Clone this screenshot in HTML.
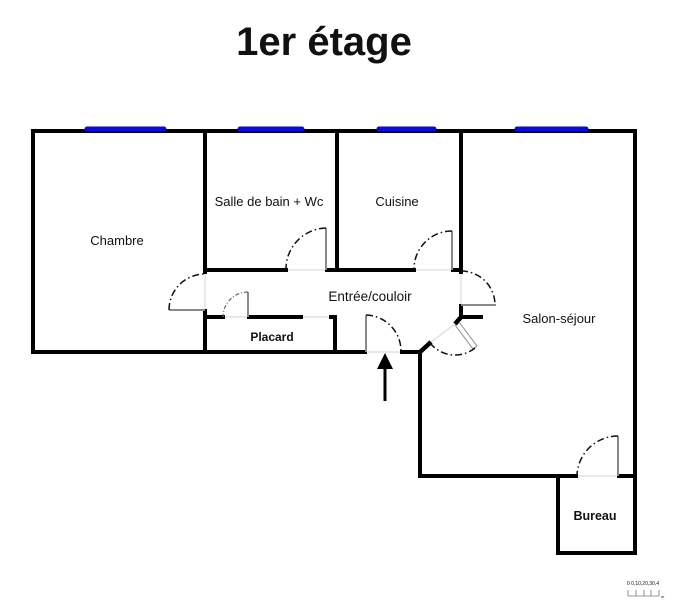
<!DOCTYPE html>
<html><head><meta charset="utf-8"><style>
html,body{margin:0;padding:0;background:#fff;}
svg{display:block;}
text{font-family:"Liberation Sans",sans-serif;fill:#111;}
</style></head><body>
<svg width="678" height="600" viewBox="0 0 678 600" xmlns="http://www.w3.org/2000/svg">
<rect width="678" height="600" fill="#fff"/>
<text x="324" y="55" text-anchor="middle" font-size="40" font-weight="bold">1er étage</text>

<!-- threshold light lines -->
<g stroke="#dcdcdc" stroke-width="1.2" fill="none">
<line x1="205" y1="273" x2="205" y2="310"/>
<line x1="287" y1="270" x2="326" y2="270"/>
<line x1="224" y1="317" x2="248" y2="317"/>
<line x1="301" y1="317" x2="330" y2="317"/>
<line x1="415" y1="270" x2="452" y2="270"/>
<line x1="461" y1="273" x2="461" y2="305"/>
<line x1="365" y1="352" x2="401" y2="352"/>
<line x1="430" y1="343" x2="456" y2="323"/>
<line x1="577" y1="476" x2="618" y2="476"/>
</g>

<!-- walls -->
<g stroke="#000" stroke-width="4" stroke-linecap="square" fill="none">
<line x1="33" y1="131" x2="635" y2="131"/>
<line x1="33" y1="131" x2="33" y2="352"/>
<line x1="33" y1="352" x2="365" y2="352"/>
<line x1="205" y1="131" x2="205" y2="272"/>
<line x1="205" y1="311" x2="205" y2="352"/>
<line x1="205" y1="270" x2="286" y2="270"/>
<line x1="327" y1="270" x2="337" y2="270"/>
<line x1="337" y1="131" x2="337" y2="270"/>
<line x1="337" y1="270" x2="414" y2="270"/>
<line x1="453" y1="270" x2="461" y2="270"/>
<line x1="461" y1="131" x2="461" y2="272"/>
<line x1="205" y1="317" x2="223" y2="317"/>
<line x1="249" y1="317" x2="301" y2="317"/>
<line x1="331" y1="317" x2="335" y2="317"/>
<line x1="335" y1="317" x2="335" y2="352"/>
<line x1="402" y1="352" x2="420" y2="352"/>
<line x1="420" y1="352" x2="420" y2="476"/>
<line x1="420" y1="476" x2="576" y2="476"/>
<line x1="619" y1="476" x2="635" y2="476"/>
<line x1="635" y1="131" x2="635" y2="553"/>
<line x1="558" y1="476" x2="558" y2="553"/>
<line x1="558" y1="553" x2="635" y2="553"/>
<line x1="461" y1="306" x2="461" y2="317"/>
<line x1="461" y1="317" x2="481" y2="317"/>
</g>
<g stroke="#000" stroke-width="4.5" fill="none" stroke-linecap="butt">
<line x1="419" y1="353" x2="431" y2="342"/>
<line x1="462" y1="316" x2="455" y2="324"/>
</g>

<!-- windows -->
<g stroke="#0a0adc" stroke-width="5" stroke-linecap="round">
<line x1="87" y1="129" x2="164" y2="129"/>
<line x1="240" y1="129" x2="302" y2="129"/>
<line x1="379" y1="129" x2="434" y2="129"/>
<line x1="517" y1="129" x2="586" y2="129"/>
</g>

<!-- door leaves -->
<g stroke="#8a8a8a" stroke-width="2" fill="none">
<line x1="169" y1="310" x2="205" y2="310"/>
<line x1="326" y1="228" x2="326" y2="270"/>
<line x1="248" y1="292" x2="248" y2="317"/>
<line x1="452" y1="231" x2="452" y2="270"/>
<line x1="461" y1="305" x2="496" y2="305"/>
<line x1="366" y1="315" x2="366" y2="352"/>
<line x1="618" y1="436" x2="618" y2="476"/>
</g>
<g stroke="#8a8a8a" stroke-width="1" fill="none">
<line x1="455" y1="325" x2="473" y2="349"/>
<line x1="459" y1="322" x2="477" y2="346"/>
<line x1="473" y1="349" x2="477" y2="346"/>
</g>

<!-- door arcs -->
<g stroke="#111" stroke-width="1.5" fill="none" stroke-dasharray="7 3 1.5 3">
<path d="M169,310 A36,36 0 0 1 205,274"/>
<path d="M326,228 A41,41 0 0 0 286,269"/>
<path d="M452,231 A38,38 0 0 0 414,269"/>
<path d="M461,271 A34,34 0 0 1 495,305"/>
<path d="M366,315 A36,36 0 0 1 401,351"/>
<path d="M475,348 A32,32 0 0 1 430,343"/>
<path d="M618,436 A41,41 0 0 0 577,475"/>
</g>
<path d="M248,292 A25,25 0 0 0 223,317" stroke="#666" stroke-width="1.2" fill="none" stroke-dasharray="4 2 1 2"/>

<!-- entrance arrow -->
<line x1="385" y1="366" x2="385" y2="401" stroke="#000" stroke-width="3"/>
<polygon points="385,353 377,369 393,369" fill="#000"/>

<!-- labels -->
<text x="117" y="245" text-anchor="middle" font-size="13">Chambre</text>
<text x="269" y="206" text-anchor="middle" font-size="13">Salle de bain + Wc</text>
<text x="397" y="206" text-anchor="middle" font-size="13">Cuisine</text>
<text x="370" y="301" text-anchor="middle" font-size="13.5">Entrée/couloir</text>
<text x="559" y="323" text-anchor="middle" font-size="13">Salon-séjour</text>
<text x="272" y="341" text-anchor="middle" font-size="12" font-weight="bold">Placard</text>
<text x="595" y="520" text-anchor="middle" font-size="12.5" font-weight="bold">Bureau</text>

<!-- scale -->
<text x="627" y="585" font-size="5" fill="#555">0 0,10,20,30,4</text>
<g stroke="#777" stroke-width="0.8">
<line x1="628" y1="596" x2="659" y2="596"/>
<line x1="628" y1="590" x2="628" y2="596"/>
<line x1="636" y1="590" x2="636" y2="596"/>
<line x1="644" y1="590" x2="644" y2="596"/>
<line x1="651" y1="590" x2="651" y2="596"/>
<line x1="659" y1="590" x2="659" y2="596"/>
</g>
<text x="661" y="598" font-size="4" fill="#777">m</text>
</svg>
</body></html>
